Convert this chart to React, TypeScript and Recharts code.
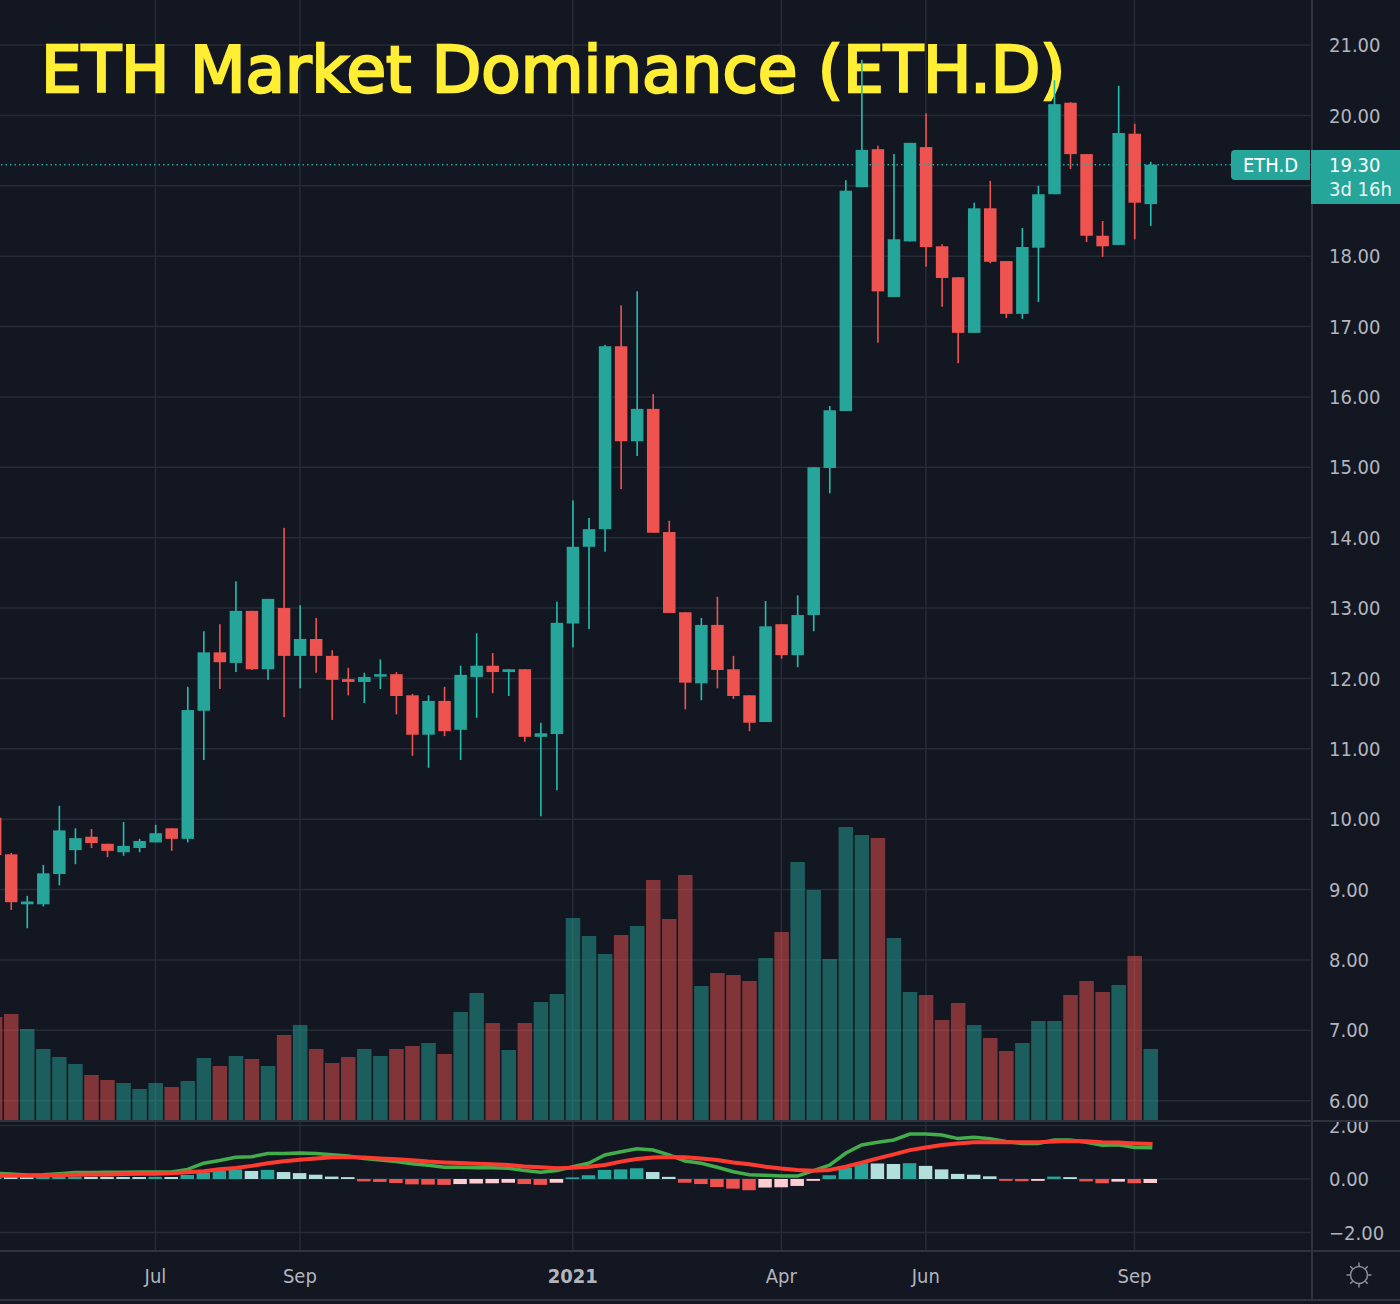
import { Bar, CartesianGrid, Cell, ComposedChart, Line, ReferenceLine, XAxis, YAxis } from 'recharts'

// weekly candles, first one sits just off the left edge
const weeks = Array.from({ length: 73 }, (_, i) => i - 1)

const opens = [10.02, 9.5, 8.79, 8.79, 9.22, 9.56, 9.75, 9.65, 9.53, 9.59, 9.67, 9.87, 9.72, 11.54, 12.37, 12.22, 12.96, 12.13, 13.0, 12.32, 12.56, 12.32, 11.99, 11.95, 12.03, 12.06, 11.76, 11.2, 11.68, 11.27, 12.02, 12.18, 12.09, 12.13, 11.17, 11.21, 12.78, 13.87, 14.12, 16.72, 15.37, 15.83, 14.08, 12.94, 11.93, 12.76, 12.13, 11.76, 11.38, 12.77, 12.33, 12.9, 14.99, 15.8, 18.98, 19.52, 17.42, 18.21, 19.55, 18.14, 17.7, 16.91, 18.68, 17.93, 17.18, 18.12, 18.88, 20.18, 19.45, 18.29, 18.16, 19.74, 18.74]
const highs = [10.05, 9.52, 8.91, 9.35, 10.19, 9.87, 9.86, 9.65, 9.96, 9.72, 9.92, 9.87, 11.88, 12.67, 12.77, 13.38, 12.96, 13.13, 14.14, 13.04, 12.86, 12.4, 12.15, 12.08, 12.27, 12.09, 11.78, 11.76, 11.88, 12.18, 12.64, 12.36, 12.13, 12.13, 11.37, 13.09, 14.53, 14.28, 16.74, 17.3, 17.5, 16.04, 14.24, 12.94, 12.86, 13.16, 12.32, 11.76, 13.1, 12.77, 13.18, 15.0, 15.87, 19.08, 20.79, 19.57, 19.45, 19.61, 20.03, 18.17, 17.7, 18.76, 19.07, 17.93, 18.4, 19.0, 20.5, 20.19, 19.45, 18.5, 20.42, 19.88, 19.34]
const lows = [9.3, 8.71, 8.45, 8.76, 9.06, 9.36, 9.59, 9.46, 9.48, 9.53, 9.67, 9.55, 9.67, 10.84, 11.85, 12.09, 12.12, 11.98, 11.45, 11.86, 12.08, 11.41, 11.76, 11.65, 11.85, 11.49, 10.9, 10.73, 11.18, 10.84, 11.44, 11.79, 11.75, 11.1, 10.04, 10.41, 12.44, 12.7, 13.8, 14.69, 15.16, 14.07, 12.93, 11.56, 11.69, 11.86, 11.71, 11.25, 11.38, 12.28, 12.16, 12.67, 14.63, 15.8, 18.98, 16.77, 17.42, 18.21, 17.85, 17.28, 16.48, 16.91, 17.9, 17.12, 17.11, 17.35, 18.88, 19.24, 18.2, 17.99, 18.16, 18.24, 18.43]
const closes = [9.49, 8.82, 8.83, 9.23, 9.84, 9.73, 9.66, 9.55, 9.62, 9.69, 9.8, 9.72, 11.55, 12.37, 12.23, 12.96, 12.13, 13.13, 12.32, 12.56, 12.32, 11.98, 11.95, 12.02, 12.06, 11.75, 11.2, 11.68, 11.25, 12.05, 12.18, 12.09, 12.13, 11.17, 11.22, 12.79, 13.87, 14.12, 16.72, 15.37, 15.83, 14.07, 12.93, 11.94, 12.76, 12.12, 11.75, 11.37, 12.74, 12.33, 12.9, 15.0, 15.81, 18.93, 19.51, 17.5, 18.24, 19.61, 18.13, 17.69, 16.91, 18.68, 17.92, 17.18, 18.13, 18.88, 20.16, 19.45, 18.29, 18.14, 19.75, 18.76, 19.3]
// relative units, no scale on the picture
const volumes = [1.03, 1.06, 0.91, 0.71, 0.63, 0.56, 0.45, 0.4, 0.37, 0.31, 0.37, 0.33, 0.39, 0.62, 0.54, 0.64, 0.61, 0.54, 0.85, 0.95, 0.71, 0.57, 0.63, 0.71, 0.64, 0.71, 0.74, 0.77, 0.66, 1.08, 1.27, 0.97, 0.7, 0.97, 1.18, 1.26, 2.02, 1.84, 1.66, 1.85, 1.94, 2.4, 2.01, 2.45, 1.34, 1.47, 1.45, 1.39, 1.62, 1.88, 2.58, 2.3, 1.61, 2.93, 2.85, 2.82, 1.82, 1.28, 1.25, 1.0, 1.17, 0.95, 0.82, 0.69, 0.77, 0.99, 0.99, 1.25, 1.39, 1.28, 1.35, 1.64, 0.71]

const histogram = [0.09, 0.085, 0.08, 0.082, 0.084, 0.086, 0.08, 0.078, 0.076, 0.074, 0.08, 0.075, 0.15, 0.24, 0.3, 0.36, 0.3, 0.34, 0.26, 0.22, 0.16, 0.09, 0.07, -0.09, -0.11, -0.15, -0.2, -0.21, -0.22, -0.19, -0.17, -0.16, -0.14, -0.19, -0.22, -0.14, 0.06, 0.14, 0.34, 0.36, 0.4, 0.26, 0.08, -0.14, -0.19, -0.3, -0.36, -0.42, -0.32, -0.31, -0.26, -0.07, 0.14, 0.42, 0.59, 0.58, 0.56, 0.59, 0.49, 0.36, 0.19, 0.16, 0.1, -0.07, -0.08, -0.07, 0.09, 0.07, -0.09, -0.16, -0.1, -0.16, -0.15]
const macdLine = [0.21, 0.19, 0.15, 0.16, 0.2, 0.24, 0.24, 0.25, 0.25, 0.26, 0.26, 0.26, 0.36, 0.59, 0.69, 0.81, 0.83, 0.95, 0.95, 0.97, 0.95, 0.91, 0.86, 0.77, 0.71, 0.65, 0.57, 0.51, 0.44, 0.44, 0.42, 0.42, 0.4, 0.32, 0.25, 0.32, 0.46, 0.59, 0.9, 1.02, 1.13, 1.08, 0.9, 0.67, 0.59, 0.44, 0.27, 0.16, 0.14, 0.11, 0.11, 0.31, 0.52, 0.96, 1.27, 1.37, 1.46, 1.68, 1.68, 1.64, 1.51, 1.56, 1.5, 1.4, 1.33, 1.33, 1.46, 1.46, 1.37, 1.26, 1.28, 1.18, 1.17]
const signalLine = [0.12, 0.12, 0.12, 0.12, 0.15, 0.16, 0.17, 0.17, 0.19, 0.2, 0.2, 0.21, 0.25, 0.29, 0.36, 0.41, 0.49, 0.59, 0.66, 0.72, 0.77, 0.81, 0.81, 0.8, 0.77, 0.74, 0.7, 0.65, 0.62, 0.6, 0.57, 0.55, 0.52, 0.47, 0.44, 0.4, 0.42, 0.46, 0.52, 0.65, 0.75, 0.8, 0.82, 0.81, 0.77, 0.71, 0.62, 0.55, 0.46, 0.39, 0.34, 0.31, 0.34, 0.46, 0.61, 0.77, 0.92, 1.08, 1.18, 1.27, 1.33, 1.37, 1.37, 1.37, 1.37, 1.37, 1.4, 1.42, 1.41, 1.37, 1.36, 1.33, 1.31]

const priceTicks = [6, 7, 8, 9, 10, 11, 12, 13, 14, 15, 16, 17, 18, 19, 20, 21]
const macdTicks = [2, 0, -2]
const monthWeeks = [9, 18, 35, 48, 57, 70]
const monthLabels = ['Jul', 'Sep', '2021', 'Apr', 'Jun', 'Sep']

const BG = '#131722'
const UP = '#26a69a'
const DOWN = '#ef5350'
const GRID = '#272b36'
const BORDER = '#2f333e'
const LABEL = '#b2b5be'
const FONT = '"DejaVu Sans Condensed", "DejaVu Sans", sans-serif'
const X_DOMAIN: [number, number] = [-0.685, 81.06]

const rows = weeks.map((w, i) => ({
  week: w, open: opens[i], high: highs[i], low: lows[i], close: closes[i],
  volume: volumes[i], hist: histogram[i], macd: macdLine[i], signal: signalLine[i],
}))

function Candle(props: any) {
  const { x, y, width, height, payload } = props
  const { open, high, low, close } = payload
  const pxPerUnit = Math.abs(height) / (high - low)
  const top = y + (high - Math.max(open, close)) * pxPerUnit
  const body = Math.max(Math.abs(open - close) * pxPerUnit, 2.5)
  const up = close >= open
  return (
    <g>
      <rect x={x + width / 2 - 0.8} y={y} width={1.6} height={Math.abs(height)} fill={up ? '#22bfae' : DOWN} />
      <rect x={x} y={top} width={width} height={body} fill={up ? UP : DOWN} />
    </g>
  )
}

function histColor(v: number, i: number) {
  const prev = i > 0 ? histogram[i - 1] : v
  if (v >= 0) return v >= prev ? UP : '#b2dfdb'
  return v <= prev ? DOWN : '#ffcdd2'
}

function MonthTick({ x, y, payload }: any) {
  const label = monthLabels[monthWeeks.indexOf(payload.value)]
  return (
    <text x={x} y={y + 25} textAnchor="middle" fontFamily={FONT} fontSize={20} fill={LABEL}
      fontWeight={label === '2021' ? 700 : 400}>{label}</text>
  )
}

const fmtPrice = (v: number) => v.toFixed(2).replace('-', '\u2212')
// 19.00 sits under the last-price box, the grid line stays
const fmtMainPrice = (v: number) => (v === 19 ? '' : fmtPrice(v))
const rule = (style: object) => <div style={{ position: 'absolute', background: BORDER, ...style }} />

export default function App() {
  return (
    <div style={{ position: 'absolute', left: 0, top: 0, width: 1400, height: 1304, background: BG, overflow: 'hidden', fontFamily: FONT }}>
      <div style={{ position: 'absolute', left: 0, top: 0 }}>
        <ComposedChart width={1400} height={1120} data={rows} margin={{ top: 0, right: 0, bottom: 0, left: 0 }}>
          <XAxis xAxisId="price" dataKey="week" type="number" domain={X_DOMAIN} allowDataOverflow ticks={monthWeeks} hide />
          <XAxis xAxisId="vol" dataKey="week" type="number" domain={X_DOMAIN} allowDataOverflow ticks={monthWeeks} hide />
          <YAxis yAxisId="price" orientation="right" width={88} domain={[5.725, 21.64]} allowDataOverflow ticks={priceTicks} interval={0}
            tickFormatter={fmtMainPrice} tickLine={false} axisLine={false} tickSize={0} tickMargin={17}
            tick={{ fontSize: 20, fill: LABEL, fontFamily: FONT }} />
          <YAxis yAxisId="vol" hide domain={[0, 11.2]} allowDataOverflow />
          <CartesianGrid xAxisId="price" yAxisId="price" stroke={GRID} strokeWidth={1.5} syncWithTicks />
          <text x={41} y={92} fontFamily='"DejaVu Sans", sans-serif' fontWeight={400} fontSize={64.4} fill="#ffee33" stroke="#ffee33" strokeWidth={2.5}>ETH Market Dominance (ETH.D)</text>
          <Bar xAxisId="vol" yAxisId="vol" dataKey="volume" barSize={14.5} isAnimationActive={false}>
            {rows.map(r => <Cell key={r.week} fill={r.close >= r.open ? UP : DOWN} fillOpacity={0.5} />)}
          </Bar>
          <Bar xAxisId="price" yAxisId="price" dataKey={(r: any) => [r.low, r.high]} barSize={12.5} shape={Candle} isAnimationActive={false} />
          <ReferenceLine xAxisId="price" yAxisId="price" y={19.3} stroke={UP} strokeDasharray="1.5 3" strokeWidth={1.5} />
        </ComposedChart>
      </div>

      <div style={{ position: 'absolute', left: 0, top: 1122 }}>
        <ComposedChart width={1400} height={178} data={rows} margin={{ top: 0, right: 0, bottom: 0, left: 0 }}>
          <XAxis dataKey="week" type="number" domain={X_DOMAIN} allowDataOverflow ticks={monthWeeks} interval={0} height={50}
            tickLine={false} axisLine={false} tick={MonthTick} />
          <YAxis orientation="right" width={88} domain={[-2.654, 2.13]} allowDataOverflow ticks={macdTicks} interval={0}
            tickFormatter={fmtPrice} tickLine={false} axisLine={false} tickSize={0} tickMargin={17}
            tick={{ fontSize: 20, fill: LABEL, fontFamily: FONT }} />
          <CartesianGrid stroke={GRID} strokeWidth={1.5} syncWithTicks />
          <Bar dataKey="hist" barSize={13.5} isAnimationActive={false}>
            {rows.map((r, i) => <Cell key={r.week} fill={histColor(r.hist, i)} />)}
          </Bar>
          <Line dataKey="macd" type="linear" stroke="#43ad4b" strokeWidth={3.5} strokeLinecap="square" dot={false} isAnimationActive={false} />
          <Line dataKey="signal" type="linear" stroke="#ff3b30" strokeWidth={4} strokeLinecap="square" dot={false} isAnimationActive={false} />
        </ComposedChart>
      </div>

      {rule({ left: 0, top: 1120, width: 1400, height: 2 })}
      {rule({ left: 0, top: 1250, width: 1400, height: 2 })}
      {rule({ left: 0, top: 1299, width: 1400, height: 2 })}
      {rule({ left: 1311, top: 0, width: 2, height: 1301 })}

      <div style={{ position: 'absolute', left: 1231, top: 150, width: 79, height: 30, lineHeight: '30px', background: UP, color: '#fff', borderRadius: '4px 0 0 4px', fontSize: 20, textAlign: 'center' }}>ETH.D</div>
      <div style={{ position: 'absolute', left: 1311, top: 150, width: 89, height: 54, background: UP, color: '#fff', fontSize: 20, paddingLeft: 18, boxSizing: 'border-box', lineHeight: '24px', paddingTop: 3 }}>
        <div>19.30</div>
        <div style={{ opacity: 0.9 }}>3d 16h</div>
      </div>

      <svg style={{ position: 'absolute', left: 1345, top: 1261 }} width={28} height={28} viewBox="0 0 28 28" fill="none" stroke="#8a8d97" strokeWidth={1.5}>
        <circle cx={14} cy={14} r={8.5} />
        <path d="M14 1.5v4M14 22.5v4M1.5 14h4M22.5 14h4M5.2 5.2l2.8 2.8M20 20l2.8 2.8M5.2 22.8L8 20M20 8l2.8-2.8" />
      </svg>
    </div>
  )
}
